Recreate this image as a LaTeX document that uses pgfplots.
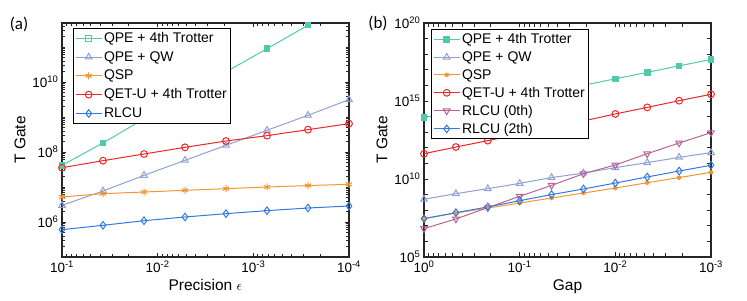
\documentclass[border=0pt]{standalone}
\usepackage{pgfplots}
\pgfplotsset{compat=1.18}
\usepackage{fontspec}
\setmainfont{Liberation Sans}
\newfontfamily\calfont{Carlito}
\definecolor{cgreen}{RGB}{82,201,169}
\definecolor{cqw}{RGB}{145,160,212}
\definecolor{corange}{RGB}{240,150,50}
\definecolor{cred}{RGB}{238,40,40}
\definecolor{cblue}{RGB}{50,122,225}
\definecolor{cmauve}{RGB}{182,100,150}
\pgfplotsset{myax/.style={
  scale only axis, width=287pt, height=234pt,
  x dir=reverse,
  axis line style={line width=1.5pt, black!85},
  every tick/.style={black!85, line width=0.8pt},
  major tick length=4.5pt, minor tick length=2.8pt, tick align=inside,
  tick label style={font=\fontsize{13.5}{15}\selectfont},
  label style={font=\fontsize{15.5}{17}\selectfont},
  legend cell align=left,
  legend style={font=\fontsize{14}{16}\selectfont, draw=black, line width=1pt, inner xsep=2pt, inner ysep=2pt, row sep=2.9pt, anchor=north west},
  legend image code/.code={\draw[mark repeat=2,mark phase=2] plot coordinates {(0cm,0cm)(0.45cm,0cm)(0.9cm,0cm)};},
  every axis plot/.append style={line width=1pt},
}}
\begin{document}
\begin{tikzpicture}[x=1pt,y=1pt]
\useasboundingbox (0,0) rectangle (747,300);
\node[font=\calfont\fontsize{17}{19}\selectfont] at (19,276) {(a)};
\node[font=\calfont\fontsize{17}{19}\selectfont] at (378,277) {(b)};
\begin{loglogaxis}[myax, at={(62pt,43pt)}, anchor=south west,
  xmin=1e-4, xmax=1e-1, ymin=1e5, ymax=4.85e11,
  xtick={1e-1,1e-2,1e-3,1e-4},
  xticklabels={10\textsuperscript{-1},10\textsuperscript{-2},10\textsuperscript{-3},10\textsuperscript{-4}},
  minor xtick={2e-4,3e-4,4e-4,5e-4,6e-4,7e-4,8e-4,9e-4,2e-3,3e-3,4e-3,5e-3,6e-3,7e-3,8e-3,9e-3,2e-2,3e-2,4e-2,5e-2,6e-2,7e-2,8e-2,9e-2},
  ytick={1e6,1e8,1e10},
  yticklabels={10\textsuperscript{6},10\textsuperscript{8},10\textsuperscript{10}},
  minor ytick={2e5,3e5,4e5,5e5,6e5,7e5,8e5,9e5,2e6,3e6,4e6,5e6,6e6,7e6,8e6,9e6,1e7,2e7,3e7,4e7,5e7,6e7,7e7,8e7,9e7,2e8,3e8,4e8,5e8,6e8,7e8,8e8,9e8,1e9,2e9,3e9,4e9,5e9,6e9,7e9,8e9,9e9,2e10,3e10,4e10,5e10,6e10,7e10,8e10,9e10,1e11,2e11,3e11,4e11},
  xlabel={Precision $\epsilon$}, ylabel={T Gate},
  legend style={at={(0.038,0.979)}, row sep=3.4pt},
]
\addlegendimage{cgreen, mark=square, mark size=2.8pt}
\addlegendentry{QPE + 4th Trotter}
\addplot[cgreen, mark=square*, mark size=2.8pt, forget plot] coordinates {
(0.1,4.17e7)(0.03728,1.81e8)(0.01389,8.9e8)(0.005179,4.2e9)(0.001931,1.95e10)(7.197e-4,8.9e10)(2.683e-4,4.2e11)};
\addplot[cqw, mark=triangle, mark size=3.8pt] coordinates {
(0.1,2.99e6)(0.03728,7.69e6)(0.01389,2.15e7)(0.005179,5.78e7)(0.001931,1.55e8)(7.197e-4,4.17e8)(2.683e-4,1.12e9)(1e-4,3.13e9)};
\addlegendentry{QPE + QW}
\addplot[corange, mark=asterisk, mark size=3.5pt] coordinates {
(0.1,5.18e6)(0.03728,6.46e6)(0.01389,7.19e6)(0.005179,8.04e6)(0.001931,8.95e6)(7.197e-4,1e7)(2.683e-4,1.10e7)(1e-4,1.19e7)};
\addlegendentry{QSP}
\addplot[cred, mark=o, mark size=3.4pt] coordinates {
(0.1,3.56e7)(0.03728,5.65e7)(0.01389,8.77e7)(0.005179,1.36e8)(0.001931,2.06e8)(7.197e-4,2.93e8)(2.683e-4,4.35e8)(1e-4,6.46e8)};
\addlegendentry{QET-U + 4th Trotter}
\addplot[cblue, mark=diamond, mark size=3.8pt] coordinates {
(0.1,6.04e5)(0.03728,8.04e5)(0.01389,1.09e6)(0.005179,1.39e6)(0.001931,1.73e6)(7.197e-4,2.11e6)(2.683e-4,2.51e6)(1e-4,2.86e6)};
\addlegendentry{RLCU}
\end{loglogaxis}
\begin{loglogaxis}[myax, at={(424pt,43pt)}, anchor=south west,
  xmin=1e-3, xmax=1, ymin=1e5, ymax=1e20,
  xtick={1,1e-1,1e-2,1e-3},
  xticklabels={10\textsuperscript{0},10\textsuperscript{-1},10\textsuperscript{-2},10\textsuperscript{-3}},
  minor xtick={2e-3,3e-3,4e-3,5e-3,6e-3,7e-3,8e-3,9e-3,2e-2,3e-2,4e-2,5e-2,6e-2,7e-2,8e-2,9e-2,2e-1,3e-1,4e-1,5e-1,6e-1,7e-1,8e-1,9e-1},
  ytick={1e5,1e10,1e15,1e20},
  yticklabels={10\textsuperscript{5},10\textsuperscript{10},10\textsuperscript{15},10\textsuperscript{20}},
  minor ytick={1e6,1e7,1e8,1e9,1e11,1e12,1e13,1e14,1e16,1e17,1e18,1e19},
  minor tick length=4pt,
  xlabel={Gap}, ylabel={T Gate},
  legend style={at={(0.024,0.974)}, row sep=2.4pt},
]
\addplot[cgreen, mark=square*, mark size=2.8pt] coordinates {
(1,8.51e13)(0.4642,2.21e14)(0.2154,5.75e14)(0.1,1.50e15)(0.04642,3.89e15)(0.02154,1.01e16)(0.01,2.63e16)(0.004642,6.84e16)(0.002154,1.78e17)(0.001,4.62e17)};
\addlegendentry{QPE + 4th Trotter}
\addplot[cqw, mark=triangle, mark size=3.8pt] coordinates {
(1,5.01e8)(0.4642,1.15e9)(0.2154,2.40e9)(0.1,5.25e9)(0.04642,1.23e10)(0.02154,2.40e10)(0.01,5.37e10)(0.004642,1.12e11)(0.002154,2.45e11)(0.001,4.90e11)};
\addlegendentry{QPE + QW}
\addplot[corange, mark=asterisk, mark size=2.3pt, mark options={line width=1.4pt}] coordinates {
(1,2.88e7)(0.4642,6.61e7)(0.2154,1.38e8)(0.1,2.88e8)(0.04642,6.03e8)(0.02154,1.26e9)(0.01,2.63e9)(0.004642,5.75e9)(0.002154,1.23e10)(0.001,2.69e10)};
\addlegendentry{QSP}
\addplot[cred, mark=o, mark size=3.4pt] coordinates {
(1,4.17e11)(0.4642,1.12e12)(0.2154,2.88e12)(0.1,7.59e12)(0.04642,1.95e13)(0.02154,5.25e13)(0.01,1.48e14)(0.004642,3.89e14)(0.002154,1.05e15)(0.001,2.69e15)};
\addlegendentry{QET-U + 4th Trotter}
\addplot[cmauve, mark=triangle, mark size=3.8pt, mark options={rotate=180}] coordinates {
(1,6.61e6)(0.4642,2.75e7)(0.2154,1.45e8)(0.1,7.76e8)(0.04642,3.89e9)(0.02154,2.19e10)(0.01,7.94e10)(0.004642,4.17e11)(0.002154,2.04e12)(0.001,9.33e12)};
\addlegendentry{RLCU (0th)}
\addplot[cblue, mark=diamond, mark size=3.8pt] coordinates {
(1,2.88e7)(0.4642,6.92e7)(0.2154,1.62e8)(0.1,4.07e8)(0.04642,1e9)(0.02154,2.29e9)(0.01,5.50e9)(0.004642,1.35e10)(0.002154,3.24e10)(0.001,7.59e10)};
\addlegendentry{RLCU (2th)}
\end{loglogaxis}
\end{tikzpicture}
\end{document}
